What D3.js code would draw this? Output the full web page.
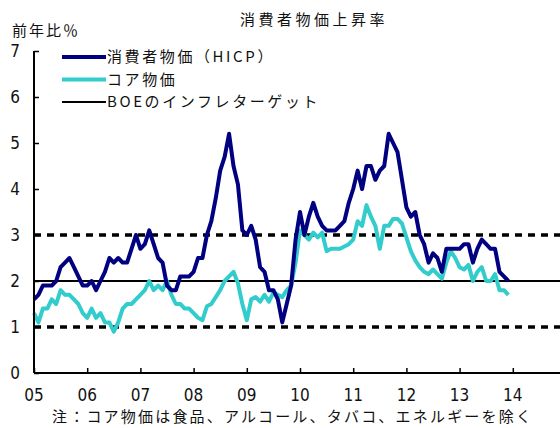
<!DOCTYPE html>
<html>
<head>
<meta charset="utf-8">
<script src="https://cdn.jsdelivr.net/npm/d3@7"></script>
<style>
  body { margin: 0; background: #fff; }
  svg text { font-family: "Noto Sans CJK JP", sans-serif; fill: #111; }
  .num { font-family: "Liberation Sans Narrow", "DejaVu Sans Condensed", sans-serif; font-size: 17px; }
</style>
</head>
<body>
<svg width="560" height="428"></svg>
<script>
var svg = d3.select("svg"),
    width = +svg.attr("width"),
    height = +svg.attr("height");

// monthly, Jan 2005 - Dec 2013
var startYear = 2005;
var hicp = [
  1.6, 1.7, 1.9, 1.9, 1.9, 2.0, 2.3, 2.4, 2.5, 2.3, 2.1, 1.9,
  1.9, 2.0, 1.8, 2.0, 2.2, 2.5, 2.4, 2.5, 2.4, 2.4, 2.7, 3.0,
  2.7, 2.8, 3.1, 2.8, 2.5, 2.4, 1.9, 1.8, 1.8, 2.1, 2.1, 2.1,
  2.2, 2.5, 2.5, 3.0, 3.3, 3.8, 4.4, 4.7, 5.2, 4.5, 4.1, 3.1,
  3.0, 3.2, 2.9, 2.3, 2.2, 1.8, 1.8, 1.6, 1.1, 1.5, 1.9, 2.9,
  3.5, 3.0, 3.4, 3.7, 3.4, 3.2, 3.1, 3.1, 3.1, 3.2, 3.3, 3.7,
  4.0, 4.4, 4.0, 4.5, 4.5, 4.2, 4.4, 4.5, 5.2, 5.0, 4.8, 4.2,
  3.6, 3.4, 3.5, 3.0, 2.8, 2.4, 2.6, 2.5, 2.2, 2.7, 2.7, 2.7,
  2.7, 2.8, 2.8, 2.4, 2.7, 2.9, 2.8, 2.7, 2.7, 2.2, 2.1, 2.0
];
var core = [
  1.3, 1.1, 1.4, 1.4, 1.6, 1.5, 1.8, 1.7, 1.7, 1.6, 1.5, 1.3,
  1.2, 1.4, 1.2, 1.3, 1.1, 1.1, 0.9, 1.1, 1.4, 1.5, 1.5, 1.6,
  1.7, 1.8, 2.0, 1.8, 1.9, 1.8, 2.0, 1.7, 1.5, 1.5, 1.4, 1.4,
  1.3, 1.2, 1.15, 1.45, 1.5, 1.65, 1.8, 2.0, 2.1, 2.2, 1.95, 1.5,
  1.15, 1.6, 1.65, 1.55, 1.7, 1.55, 1.75, 1.7, 1.65, 1.8, 1.9, 2.4,
  3.1, 3.0, 2.9, 3.05, 2.95, 3.05, 2.65, 2.7, 2.7, 2.7, 2.75, 2.8,
  2.9, 3.3, 3.2, 3.65, 3.4, 3.2, 2.7, 3.2, 3.2, 3.35, 3.35, 3.25,
  2.95, 2.65, 2.45, 2.3, 2.2, 2.15, 2.25, 2.15, 2.05, 2.4, 2.65, 2.5,
  2.3, 2.25, 2.35, 2.0, 2.2, 2.3, 2.0, 2.0, 2.15, 1.8, 1.8, 1.7
];
var target = 2;
var band = [1, 3];
var yTicks = [0, 1, 2, 3, 4, 5, 6, 7];
var xTicks = [2005, 2006, 2007, 2008, 2009, 2010, 2011, 2012, 2013, 2014];
var xLabels = ["05", "06", "07", "08", "09", "10", "11", "12", "13", "14"];

var x = d3.scaleLinear().domain([2005, 2015]).range([34, 566]);
var y = d3.scaleLinear().domain([0, 7]).range([373, 51]);

function t(i) { return startYear + i / 12; }

// reference lines
svg.selectAll(".band")
    .data(band)
    .enter().append("line")
    .attr("x1", x(2005)).attr("x2", width)
    .attr("y1", function(d) { return y(d); })
    .attr("y2", function(d) { return y(d); })
    .attr("stroke", "#000")
    .attr("stroke-width", 3.5)
    .attr("stroke-dasharray", "7,6");

svg.append("line")
    .attr("x1", x(2005)).attr("x2", width)
    .attr("y1", y(target)).attr("y2", y(target))
    .attr("stroke", "#000")
    .attr("stroke-width", 2);

var line = d3.line()
    .x(function(d, i) { return x(t(i)); })
    .y(function(d) { return y(d); });

svg.append("path")
    .datum(core)
    .attr("fill", "none")
    .attr("stroke", "#33CCCC")
    .attr("stroke-width", 4)
    .attr("stroke-linejoin", "round")
    .attr("d", line);

svg.append("path")
    .datum(hicp)
    .attr("fill", "none")
    .attr("stroke", "#000080")
    .attr("stroke-width", 4)
    .attr("stroke-linejoin", "round")
    .attr("d", line);

// axes
var yAxis = svg.append("g")
    .attr("transform", "translate(" + x(2005) + ",0)")
    .call(d3.axisRight(y).tickValues(yTicks).tickSize(5).tickFormat(""));
yAxis.select(".domain").attr("d", "M0," + y(7) + "V" + y(0)).attr("stroke-width", 2);
yAxis.selectAll(".tick line").attr("stroke-width", 1.5);

svg.selectAll(".ylab")
    .data(yTicks)
    .enter().append("text")
    .attr("class", "num")
    .attr("x", 20)
    .attr("y", function(d) { return y(d); })
    .attr("dy", "0.36em")
    .attr("text-anchor", "end")
    .text(function(d) { return d; });

var xAxis = svg.append("g")
    .attr("transform", "translate(0," + y(0) + ")")
    .call(d3.axisTop(x).tickValues(xTicks).tickSize(5).tickFormat(""));
xAxis.select(".domain").attr("d", "M" + x(2005) + ",0H" + width).attr("stroke-width", 2);
xAxis.selectAll(".tick line").attr("stroke-width", 1.5);

svg.selectAll(".xlab")
    .data(xTicks)
    .enter().append("text")
    .attr("class", "num")
    .attr("x", function(d) { return x(d); })
    .attr("y", 395)
    .attr("dy", "0.36em")
    .attr("text-anchor", "middle")
    .text(function(d, i) { return xLabels[i]; });

// titles
svg.append("text")
    .attr("x", 240).attr("y", 25)
    .style("font-size", "15px")
    .style("letter-spacing", "3.5px")
    .text("消費者物価上昇率");

svg.append("text")
    .attr("x", 12).attr("y", 36)
    .style("font-size", "15px")
    .style("letter-spacing", "2px")
    .text("前年比％");

svg.append("text")
    .attr("x", 52).attr("y", 422)
    .style("font-size", "15px")
    .style("letter-spacing", "2.2px")
    .text("注：コア物価は食品、アルコール、タバコ、エネルギーを除く");

// legend
var legend = [
  { name: "消費者物価（HICP）", color: "#000080", w: 4 },
  { name: "コア物価", color: "#33CCCC", w: 4 },
  { name: "BOEのインフレターゲット", color: "#000", w: 2 }
];
var lg = svg.selectAll(".legend")
    .data(legend)
    .enter().append("g")
    .attr("transform", function(d, i) { return "translate(62," + (57 + i * 22.5) + ")"; });
lg.append("line")
    .attr("x1", 0).attr("x2", 44)
    .attr("stroke", function(d) { return d.color; })
    .attr("stroke-width", function(d) { return d.w; });
lg.append("text")
    .attr("x", 45)
    .attr("dy", "0.36em")
    .style("font-size", "15px")
    .style("letter-spacing", "2.6px")
    .text(function(d) { return d.name; });
</script>
</body>
</html>
